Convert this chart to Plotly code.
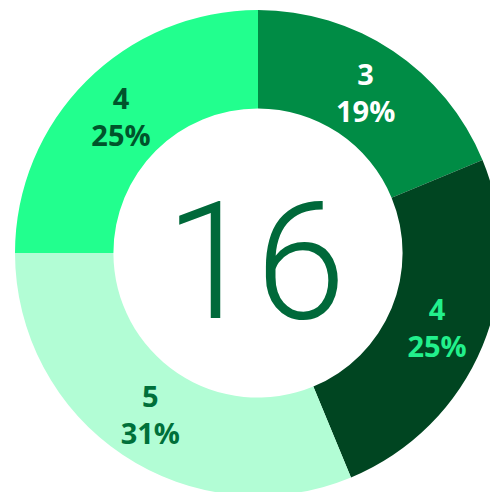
import plotly.graph_objects as go

labels = ["A", "B", "C", "D"]
values = [3, 4, 5, 4]
slice_colors = ["#008C45", "#004521", "#B2FDD5", "#22FF8E"]
text_colors = ["#FFFFFF", "#22F08C", "#00703A", "#00542B"]
total_label = str(sum(values))

fig = go.Figure(go.Pie(
    labels=labels,
    values=values,
    sort=False,
    direction="clockwise",
    rotation=0,
    hole=0.595,
    marker=dict(colors=slice_colors, line=dict(width=0)),
    texttemplate="%{value}<br>%{percent:.0%}",
    textposition="inside",
    insidetextorientation="auto",
    textfont=dict(family="Open Sans", size=29, color=text_colors, weight=700),
    hoverinfo="skip",
    showlegend=False,
))

fig.add_annotation(
    text=total_label, x=0.5, y=0.5, xref="paper", yref="paper", xshift=-3, yshift=-9,
    showarrow=False, font=dict(family="Roboto", size=163, color="#00693A", weight=300),
)

fig.update_layout(
    width=516, height=506,
    margin=dict(l=15, r=15, t=10, b=10),
    paper_bgcolor="white", plot_bgcolor="white",
)

fig.write_html(
    "out.html",
    config={"displayModeBar": False},
    post_script="document.body.style.margin='0';document.body.style.overflow='hidden';document.documentElement.style.overflow='hidden';",
)
